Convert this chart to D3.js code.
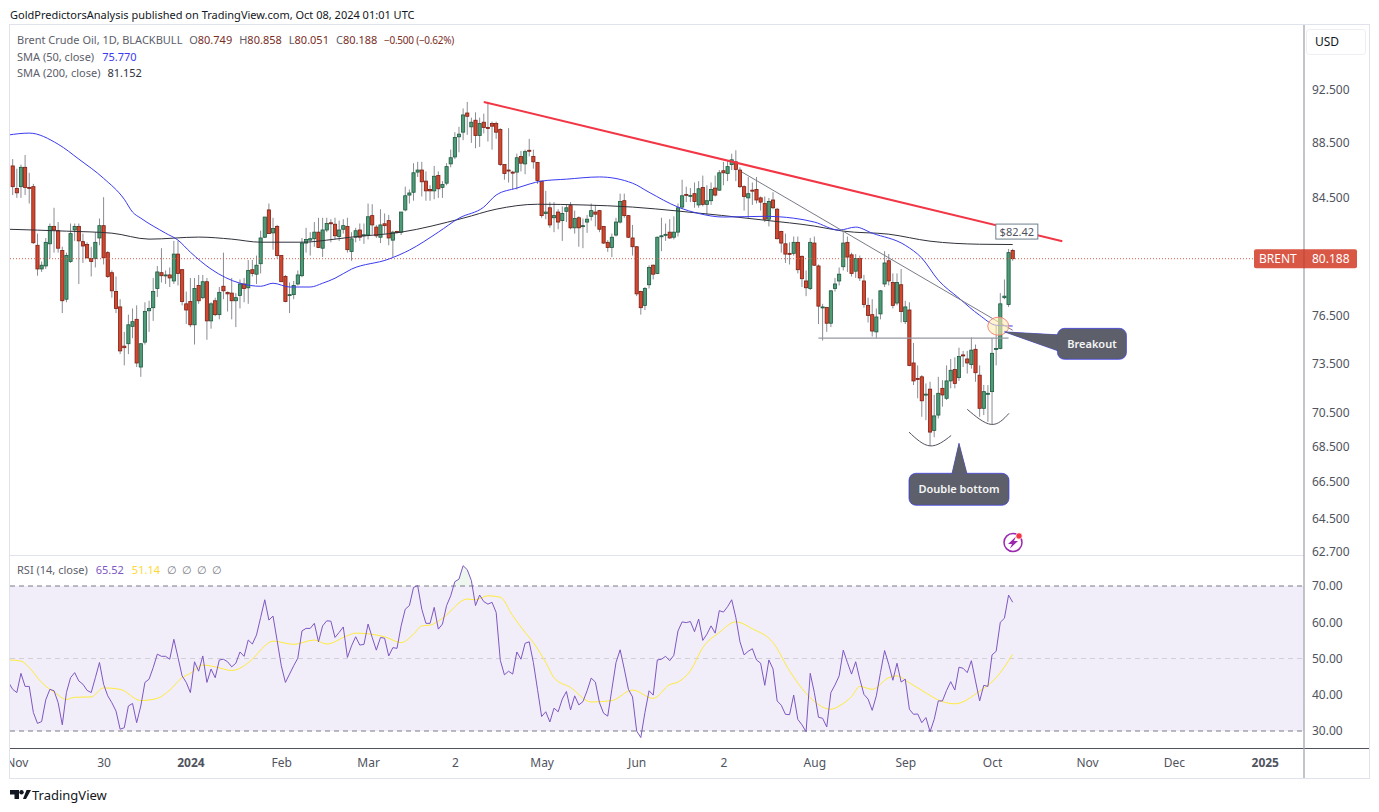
<!DOCTYPE html>
<html>
<head>
<meta charset="utf-8">
<title>Brent Crude Oil</title>
<script src="https://cdn.jsdelivr.net/npm/d3@7"></script>
<style>
  html, body { margin: 0; background: #fff; }
  text { font-family: "Noto Sans", sans-serif; }
</style>
</head>
<body>
<div id="chart"></div>
<script>
// Daily candles, first bar = 0
const opens = [
  86.7,85.07,85.2,86.6,85.15,85.2,81.1,79.5,79.7,81.2,
  82.4,82.1,80.75,77.5,80.0,82.15,82.4,81.35,81.15,80.2,
  80.2,81.6,82.45,80.6,79.25,78,77,74.5,74.65,75.75,
  76.2,73.2,74.75,76.75,76.95,78.2,79.25,79.05,79.1,78.7,
  80.5,79.45,77.2,77.35,75.85,78.4,77.6,78.65,76.1,77.4,
  76.5,78.35,77.95,77.9,77.4,77.75,78.5,78.25,79.45,79.15,
  79.85,81.65,83.55,81.95,82.4,80.4,79.0,77.75,77.8,78.5,
  79.05,81.25,81.45,81.55,82.0,80.9,82.15,82.65,82.55,81.7,
  82.2,82.4,80.67,81.65,82.15,81.75,81.8,83.15,82.35,81.65,
  82.58,82.8,81.45,82.05,82.0,83.55,84.6,84.8,86.25,86.4,
  85.6,85.0,84.9,86.0,85.15,85.45,86.85,87.36,88.85,89.2,
  90.65,89.6,90.1,88.95,89.95,89.55,89.85,89.85,89.4,86.8,
  86.4,86.25,86.25,87.4,86.85,87.85,87.4,86.95,85.6,83.3,
  83.7,83.0,83.4,82.8,83.45,83.85,82.3,83.0,82.4,82.7,
  83.1,83.4,83.5,82.4,81.3,80.95,81.8,82.7,84.2,83.15,
  81.6,81.0,78.0,77.1,78.45,79.75,79.2,81.7,81.8,82.0,
  81.65,82.0,83.75,84.65,84.55,84.7,83.9,85.14,83.94,84.2,
  85.1,84.95,86.35,86.15,86.8,87.0,86.4,85.2,84.4,84.95,
  85.0,84.4,84.0,82.9,84.25,83.6,82.05,81.2,80.55,80.55,
  81.3,80.35,78.7,78.2,81.25,79.7,76.97,76.97,75.95,78.2,
  78.7,79.65,81.3,80.45,79.35,80.2,78.7,77.1,76.5,75.4,
  76.55,78.5,80.05,78.6,77.25,78.45,76.05,76.8,73.45,72.5,
  72.6,71.5,71.85,69.4,70.3,71.9,71.3,72.35,73.05,72.55,
  73.95,73.7,73.35,74.3,72.7,70.7,71.55,71.7,74.3,74.35,
  77.6,77.15,80.749
];
const highs = [
  87.2,86.5,86.8,87.5,86.2,85.4,81.9,80.0,81.6,82.6,
  83.7,82.7,81.0,80.6,82.6,82.6,82.6,81.9,81.3,81.0,
  82.0,82.95,84.45,80.7,79.4,79.0,77.5,75.4,76.5,76.9,
  77.1,74.7,77.3,77.4,78.9,79.7,80.9,79.4,79.6,81.4,
  81.4,79.5,78.0,78.9,78.9,79.1,79.1,78.9,77.3,77.6,
  78.3,80.6,78.0,78.9,77.9,78.8,78.9,80.1,80.1,80.4,
  82.1,83.05,84.0,83.0,82.5,80.4,79.1,78.6,78.7,79.4,
  81.6,82.3,82.0,82.7,83.0,83.0,83.0,82.9,83.0,82.8,
  82.9,83.0,82.0,82.3,82.6,82.6,84.0,83.95,82.5,83.6,
  83.3,83.2,82.1,82.1,83.4,85.2,85.0,86.9,87.0,87.0,
  86.3,85.3,86.7,86.3,85.6,86.9,87.9,89.2,89.6,91.0,
  91.5,90.3,90.7,90.3,90.6,91.5,90.0,90.0,89.5,86.8,
  89.5,86.35,87.6,87.8,87.9,88.7,87.9,87.0,85.6,84.9,
  84.1,84.1,83.6,83.8,83.9,84.1,83.5,83.1,82.95,83.2,
  84.0,83.9,83.55,82.4,81.45,81.9,83.0,84.7,84.7,83.2,
  82.5,81.05,78.05,78.3,79.75,79.8,81.7,83.0,82.6,82.9,
  83.1,84.0,85.7,85.2,85.1,85.5,85.6,86.0,85.3,85.5,
  86.0,86.4,87.0,87.1,87.6,87.85,86.6,85.3,85.9,85.5,
  85.9,84.5,84.5,84.4,84.8,83.7,82.1,81.9,81.3,81.7,
  81.7,80.4,79.4,81.6,81.7,79.8,77.2,77.0,78.1,78.9,
  79.6,82.0,81.7,80.6,80.5,80.4,79.1,77.6,77.5,76.9,
  78.1,80.7,80.5,79.2,79.2,79.5,77.4,77.3,74.7,73.3,
  72.7,72.2,72.3,71.5,72.6,72.4,73.3,73.7,73.8,74.4,
  74.2,74.2,75.05,74.6,73.3,72.1,72.1,75.0,75.8,77.9,
  78.8,80.85,80.858
];
const lows = [
  84.6,84.4,84.4,84.6,84.0,81.2,79.05,79.3,79.5,80.2,
  80.6,80.6,76.6,77.3,79.9,81.4,78.5,79.9,80.2,79.0,
  79.6,81.1,79.8,78.9,77.6,76.6,74.0,73.3,74.0,75.0,
  73.2,72.6,74.6,75.4,76.1,77.65,78.6,78.5,78.3,78.5,
  78.4,77.1,75.9,75.7,74.6,77.2,77.5,74.9,75.6,76.4,
  76.2,77.5,76.7,76.2,75.7,76.9,77.3,77.2,79.0,78.5,
  79.2,81.6,81.9,80.8,80.2,78.65,77.3,76.6,77.5,78.4,
  78.95,80.6,80.4,81.0,80.9,80.3,82.0,81.3,81.5,81.4,
  81.9,80.6,80.05,81.3,81.4,81.2,81.5,81.85,81.6,81.25,
  81.9,81.1,80.3,81.9,81.8,83.45,84.0,84.2,85.9,84.5,
  84.2,84.2,84.3,84.4,84.4,85.3,86.6,87.2,87.7,88.6,
  89.0,88.4,88.0,88.1,89.1,88.5,87.9,88.7,86.7,85.7,
  85.5,85.0,85.0,86.3,86.1,87.4,86.5,85.4,83.0,82.9,
  82.3,82.0,82.2,81.4,82.7,82.2,81.9,81.0,80.9,81.95,
  82.8,82.4,82.0,81.2,80.65,80.3,81.7,82.6,83.0,81.6,
  80.4,77.7,76.5,76.8,78.2,78.8,79.15,80.7,81.4,81.55,
  81.5,81.7,83.6,84.1,84.1,83.7,83.7,83.8,83.2,83.9,
  84.5,84.9,85.3,85.6,86.4,85.6,85.1,83.5,83.0,83.9,
  84.0,83.5,82.7,82.4,83.6,81.5,80.6,79.9,79.8,80.4,
  79.2,78.3,77.7,78.1,79.7,75.9,74.85,75.4,75.7,78.0,
  78.4,79.4,79.3,79.0,78.9,78.7,76.95,76.0,75.1,75.0,
  76.2,78.3,78.4,76.9,77.1,76.0,75.9,73.25,72.1,71.3,
  70.2,70.0,68.5,69.0,70.1,70.8,71.2,71.9,71.9,72.35,
  73.2,72.8,73.1,72.3,70.2,70.3,69.9,69.75,73.3,74.3,
  77.5,77.0,80.051
];
const closes = [
  85.2,84.76,86.6,85.15,85.1,81.27,79.5,79.75,81.3,82.4,
  82.15,80.9,77.4,80.4,81.9,82.4,81.4,81.05,80.25,80.0,
  81.3,82.45,80.25,79.0,78.05,76.9,74.2,74.4,75.85,76.05,
  73.45,74.65,76.7,76.9,78.0,79.3,79.05,79.1,78.9,80.5,
  79.2,77.35,76.8,75.85,78.2,77.4,78.65,76.1,77.2,76.5,
  77.95,78.05,77.85,77.4,77.6,78.5,78.2,79.4,79.2,79.75,
  81.6,83.05,81.9,82.25,80.4,78.65,77.35,77.8,78.4,79.1,
  81.25,81.5,81.55,82.0,80.95,82.15,82.6,82.6,81.75,82.15,
  82.45,80.8,81.54,82.1,81.65,81.82,83.07,82.5,81.75,82.5,
  82.45,81.6,82.0,82.0,83.4,84.55,84.75,86.2,86.4,85.55,
  84.9,84.9,85.95,85.05,85.35,86.65,87.3,88.8,89.05,90.5,
  90.4,89.95,88.95,89.85,89.55,89.5,89.65,89.2,86.8,86.15,
  86.35,86.2,87.3,86.9,87.75,87.8,87.0,85.65,83.15,83.4,
  82.5,83.15,82.7,83.3,83.7,82.3,82.95,82.3,82.45,82.9,
  83.5,83.25,82.2,81.25,80.95,81.65,82.7,84.15,83.15,81.65,
  81.0,77.85,76.95,78.2,79.6,79.15,81.65,81.75,81.85,81.6,
  82.0,83.7,84.55,84.6,84.58,84.15,85.05,83.94,84.2,85.0,
  84.6,86.2,86.2,86.65,87.15,86.45,85.2,84.5,84.7,84.9,
  84.25,84.1,82.9,84.15,83.7,81.55,81.25,80.5,80.5,81.3,
  79.45,78.85,78.25,81.3,79.75,77.05,77.0,75.95,78.05,78.5,
  79.15,81.25,80.3,79.2,80.2,78.9,77.15,76.45,75.45,76.35,
  78.05,79.9,78.7,77.1,78.6,76.7,77.0,73.3,72.35,72.45,
  71.15,71.55,69.3,70.25,71.6,71.5,72.35,73.0,72.2,73.85,
  73.9,73.45,74.25,72.85,70.7,71.7,71.6,74.05,74.35,77.2,
  77.7,80.6,80.188
];

// Moving averages, read at the bends of the lines
const sma50Bars = [-1,4,11,16,22,27,29,31,37,40,43,48,55,60,63,67,72,75,78,82,91,96,103,108,114,117,122,128,134,142,150,154,161,166,172,182,189,194,200,204,208,216,220,224,229,234,238,242];
const sma50 = [88.99,89.13,88.3,87.2,85.8,84.3,83.4,82.97,81.93,81.45,80.63,79.49,78.55,78.35,78.55,78.3,78.3,78.55,78.88,79.49,80.16,80.77,82.0,82.97,83.75,84.6,85.1,85.6,85.74,85.9,85.45,84.8,83.75,83.3,83.05,83.1,82.97,82.7,82.14,82.35,81.93,81.1,80.23,78.75,77.57,76.46,75.82,75.77];
const sma200Bars = [-1,13,24,33,45,53,60,70,78,82,94,109,117,127,138,150,161,182,194,201,212,222,234,242];
const sma200 = [82.2,82.07,81.93,81.52,81.66,81.52,81.31,81.31,81.52,81.66,82.0,82.97,83.6,83.95,83.9,83.75,83.47,82.83,82.42,82.07,81.86,81.38,81.17,81.15];

// RSI, one value per bar starting one bar before the first candle
const rsiFirstBar = -1;
const rsi = [
  43.4,41.5,40.6,45.9,42.3,42.3,35.1,32.1,32.6,38.6,41.5,
  41.1,37.8,31.7,40.6,44.7,46.1,43.8,42.9,41.2,40.6,
  44.7,48.9,42.9,39.7,37.8,35.5,30.5,30.9,36.9,37.6,
  32.3,36.9,43.4,44.3,47.5,51.2,50.6,50.6,49.8,55.3,
  50.3,45.2,43.4,40.6,49.1,46.5,50.7,43.4,47.1,44.7,
  49.6,49.8,49.1,47.7,48.7,51.8,50.6,55.1,54.0,56.5,
  61.3,66.2,60.6,61.7,54.9,48.0,43.4,45.7,48.0,50.1,
  57.6,58.3,58.3,59.7,54.6,59.0,60.4,60.3,55.8,57.2,
  58.7,50.3,53.5,56.0,53.7,53.9,59.5,55.8,52.3,55.8,
  55.6,50.7,53.0,52.8,59.0,63.6,64.6,69.6,70.1,63.6,
  59.7,59.7,64.1,58.1,59.5,64.6,67.3,71.2,71.9,75.6,
  74.5,71.5,64.6,67.5,65.7,65.0,65.5,62.7,49.5,45.5,
  46.5,45.7,51.8,49.8,54.2,54.6,48.9,41.5,34.0,35.3,
  32.5,36.3,35.3,38.8,40.9,35.8,39.7,37.2,38.1,41.1,
  44.6,43.5,37.8,34.9,34.1,41.5,48.9,52.4,47.1,41.5,
  39.4,30.0,28.2,35.1,41.1,39.9,49.6,49.8,50.6,49.4,
  50.9,57.6,60.1,59.9,60.2,57.4,60.9,55.0,56.7,59.0,
  57.0,63.2,62.8,64.3,66.2,61.3,54.6,51.0,52.0,52.7,
  49.6,48.7,42.6,49.6,47.1,38.3,37.1,34.6,34.5,39.9,
  33.2,31.7,29.8,45.9,40.6,33.8,33.5,31.1,40.6,42.7,
  45.2,52.3,48.9,45.7,49.1,44.3,40.1,38.8,35.7,39.7,
  46.1,52.2,48.4,44.0,48.7,43.5,44.3,36.0,34.6,34.7,
  32.3,33.7,29.8,33.2,38.3,38.3,41.2,43.6,41.3,47.6,
  47.3,46.1,49.4,43.8,38.3,42.6,42.3,51.0,52.0,60.0,
  61.1,67.5,65.52
];
const rsiMaBars = [-1,2,4,7,9,10,13,15,19,22,26,31,35,38,41,43,46,49,53,58,61,63,68,73,76,81,83,90,94,97,99,101,104,110,112,115,118,121,124,126,129,131,135,140,145,150,155,159,161,164,167,171,175,179,184,188,192,198,200,203,205,208,212,214,217,220,225,228,234,238,242];
const rsiMa = [49.6,49.3,47.5,43.4,41.5,40.8,38.7,39.3,39.4,41.9,41.5,38.4,39.0,41.3,44.7,45.9,48.2,47.7,46.7,49.8,53.5,54.8,53.9,55.1,54.0,56.3,57.0,56.0,54.4,56.7,59.0,59.2,61.1,66.4,66.2,67.3,66.9,61.8,57.2,54.4,48.9,44.7,42.0,38.0,38.4,41.3,39.0,42.8,43.5,46.6,53.0,57.2,60.1,58.2,54.4,46.6,40.4,36.0,36.9,39.5,42.3,41.5,44.7,45.2,43.3,41.2,38.1,37.5,41.0,44.7,51.14];

// Axis ticks
const priceTicks = [92.5, 88.5, 84.5, 76.5, 73.5, 70.5, 68.5, 66.5, 64.5, 62.7];
const rsiTicks = [70, 60, 50, 40, 30];
const timeTickBars = [1, 22, 43, 65, 86, 107, 128, 151, 172, 194, 216, 237, 260, 281, 303];
const timeTickLabels = ['Nov', '30', '2024', 'Feb', 'Mar', '2', 'May', 'Jun', '2', 'Aug', 'Sep', 'Oct', 'Nov', 'Dec', '2025'];
const boldTimeLabels = ['2024', '2025'];

// Drawn annotations as [bar, price]
const resistanceLine = [[114, 91.5], [254, 81.38]];
const trendLine = [[176.5, 86.25], [242, 75.5]];
const necklineLine = [[195, 75.0], [241, 75.0]];
const leftBottomArc = [[216.9, 69.3], [222, 68.5], [227.1, 69.1]];
const rightBottomArc = [[231, 70.64], [236.8, 69.75], [241.1, 70.4]];
const breakoutMark = [238.5, 75.76];
const breakoutTip = [240, 75.4];
const doubleBottomTip = [229, 68.65];
const targetLabel = [243, 82.04];
const lastClose = 80.188;

const W = 1379, H = 812;
const paneLeft = 10, paneRight = 1304, frameRight = 1369;
const paneTop = 25, priceEnd = 555, rsiEnd = 748, frameBottom = 778;

const svg = d3.select('#chart').append('svg')
    .attr('width', W)
    .attr('height', H)
    .style('display', 'block');

const defs = svg.append('defs');
defs.append('clipPath').attr('id', 'clip-price').append('rect')
    .attr('x', paneLeft).attr('y', paneTop).attr('width', paneRight - paneLeft).attr('height', priceEnd - paneTop);
defs.append('clipPath').attr('id', 'clip-rsi').append('rect')
    .attr('x', paneLeft).attr('y', priceEnd).attr('width', paneRight - paneLeft).attr('height', rsiEnd - priceEnd);
defs.append('clipPath').attr('id', 'clip-over').append('rect')
    .attr('x', paneLeft).attr('y', priceEnd).attr('width', paneRight - paneLeft).attr('height', 586 - priceEnd);
defs.append('clipPath').attr('id', 'clip-time').append('rect')
    .attr('x', paneLeft).attr('y', rsiEnd).attr('width', paneRight - paneLeft).attr('height', frameBottom - rsiEnd);

// Scales
const x = d3.scaleLinear().domain([0, 242]).range([12.7, 1012.7]);
const y = d3.scaleLog().domain([62.7, 92.5]).range([551, 89]);
const yRsi = d3.scaleLinear().domain([30, 70]).range([731, 586]);

// Frame
svg.append('text').attr('x', 10).attr('y', 19)
    .attr('font-size', 11).attr('fill', '#131722')
    .text('GoldPredictorsAnalysis published on TradingView.com, Oct 08, 2024 01:01 UTC');
svg.append('rect')
    .attr('x', paneLeft - 0.5).attr('y', paneTop - 0.5)
    .attr('width', frameRight - paneLeft + 1).attr('height', frameBottom - paneTop + 1)
    .attr('fill', '#fff').attr('stroke', '#e0e3eb');
svg.append('line')
    .attr('x1', paneLeft).attr('x2', paneRight)
    .attr('y1', priceEnd + 0.5).attr('y2', priceEnd + 0.5)
    .attr('stroke', '#e0e3eb');

// Candles
const bars = closes.map((c, i) => ({ i, o: opens[i], h: highs[i], l: lows[i], c }));
const up = d => d.c >= d.o;
const pricePane = svg.append('g').attr('clip-path', 'url(#clip-price)');

pricePane.append('g').selectAll('line').data(bars).join('line')
    .attr('x1', d => x(d.i)).attr('x2', d => x(d.i))
    .attr('y1', d => y(d.h)).attr('y2', d => y(d.l))
    .attr('stroke', '#8a8d94')
    .attr('stroke-width', 1);

pricePane.append('g').selectAll('rect').data(bars).join('rect')
    .attr('x', d => x(d.i) - 1.6)
    .attr('width', 3.2)
    .attr('y', d => y(Math.max(d.o, d.c)))
    .attr('height', d => Math.max(Math.abs(y(d.o) - y(d.c)), 1))
    .attr('fill', d => up(d) ? '#4f9a77' : '#d4472f')
    .attr('stroke', d => up(d) ? '#1c5a3f' : '#7a1f14')
    .attr('stroke-width', 0.8);

// Last price line
pricePane.append('line')
    .attr('x1', paneLeft).attr('x2', paneRight)
    .attr('y1', y(lastClose)).attr('y2', y(lastClose))
    .attr('stroke', '#d9604c')
    .attr('stroke-dasharray', '1,2');

// Moving averages
const smaLine = d3.line().x(d => x(d[0])).y(d => y(d[1])).curve(d3.curveMonotoneX);
pricePane.append('path').datum(d3.zip(sma200Bars, sma200))
    .attr('fill', 'none').attr('stroke', '#30323a').attr('stroke-width', 1)
    .attr('d', smaLine);
pricePane.append('path').datum(d3.zip(sma50Bars, sma50))
    .attr('fill', 'none').attr('stroke', '#3a3af0').attr('stroke-width', 1)
    .attr('d', smaLine);

// Trend lines and bottoms
const straight = d3.line().x(d => x(d[0])).y(d => y(d[1]));
pricePane.append('path').datum(trendLine)
    .attr('fill', 'none').attr('stroke', '#787b86').attr('stroke-width', 1)
    .attr('d', straight);
pricePane.append('path').datum(necklineLine)
    .attr('fill', 'none').attr('stroke', '#9598a1').attr('stroke-width', 1.3)
    .attr('d', straight);
pricePane.append('path').datum(resistanceLine)
    .attr('fill', 'none').attr('stroke', '#f23645').attr('stroke-width', 2)
    .attr('d', straight);
[leftBottomArc, rightBottomArc].forEach(arc => {
    pricePane.append('path').datum(arc)
        .attr('fill', 'none').attr('stroke', '#50535e').attr('stroke-width', 1)
        .attr('d', d3.line().x(d => x(d[0])).y(d => y(d[1])).curve(d3.curveNatural));
});

// Breakout circle
pricePane.append('ellipse')
    .attr('cx', x(breakoutMark[0])).attr('cy', y(breakoutMark[1]))
    .attr('rx', 10.5).attr('ry', 9)
    .attr('fill', 'rgba(255, 236, 179, 0.6)')
    .attr('stroke', '#f7867a');

// Callouts
function callout(label, boxX, boxY, boxW, boxH, pointer) {
    const g = svg.append('g');
    g.append('path')
        .attr('d', d3.line()(pointer))
        .attr('fill', '#5d606b').attr('stroke', '#3a3af0').attr('stroke-width', 0.7);
    g.append('rect')
        .attr('x', boxX).attr('y', boxY).attr('width', boxW).attr('height', boxH)
        .attr('rx', 7)
        .attr('fill', '#5d606b').attr('stroke', '#3a3af0').attr('stroke-width', 0.7);
    // hide the join between pointer and box
    g.append('path')
        .attr('d', d3.line()(pointer))
        .attr('fill', '#5d606b');
    g.append('text')
        .attr('x', boxX + boxW / 2).attr('y', boxY + boxH / 2 + 4)
        .attr('text-anchor', 'middle')
        .attr('font-size', 11).attr('font-weight', 600).attr('fill', '#f5f5f5')
        .text(label);
}
const dbX = x(doubleBottomTip[0]), dbY = y(doubleBottomTip[1]);
callout('Double bottom', dbX - 50, dbY + 30, 100, 32,
    [[dbX - 7, dbY + 30.5], [dbX, dbY], [dbX + 8, dbY + 30.5]]);
const boX = x(breakoutTip[0]), boY = y(breakoutTip[1]);
callout('Breakout', boX + 53, boY - 3.5, 69, 31,
    [[boX + 53.5, boY + 3], [boX, boY], [boX + 53.5, boY + 19]]);

// Price target label
const tgX = x(targetLabel[0]), tgY = y(targetLabel[1]);
svg.append('rect')
    .attr('x', tgX - 21).attr('y', tgY - 7.5).attr('width', 42).attr('height', 15)
    .attr('fill', '#fff').attr('stroke', '#6d7f8c');
svg.append('text')
    .attr('x', tgX).attr('y', tgY + 4)
    .attr('text-anchor', 'middle')
    .attr('font-size', 11).attr('fill', '#50535e')
    .text('$82.42');

// Lightning badge
const badge = svg.append('g').attr('transform', 'translate(1013,542.5)');
badge.append('circle').attr('r', 9).attr('fill', 'none').attr('stroke', '#9c27b0').attr('stroke-width', 1.5);
badge.append('path').attr('d', 'M3,-6 L-5,1.5 L-1,1.5 L-3,6 L5,-1.5 L1,-1.5 Z').attr('fill', '#9c27b0');
badge.append('circle').attr('cx', 6).attr('cy', -6.5).attr('r', 3.2).attr('fill', '#f23645')
    .attr('stroke', '#fff').attr('stroke-width', 0.7);

// RSI pane
const rsiPoints = rsi.map((v, k) => [k + rsiFirstBar, v]);
const rsiLine = d3.line().x(d => x(d[0])).y(d => yRsi(d[1]));
const rsiPane = svg.append('g').attr('clip-path', 'url(#clip-rsi)');

rsiPane.append('rect')
    .attr('x', paneLeft).attr('width', paneRight - paneLeft)
    .attr('y', yRsi(70)).attr('height', yRsi(30) - yRsi(70))
    .attr('fill', '#7e57c2').attr('fill-opacity', 0.1);
rsiPane.append('path').datum(rsiPoints)
    .attr('clip-path', 'url(#clip-over)')
    .attr('fill', '#4caf50').attr('fill-opacity', 0.1)
    .attr('d', d3.area().x(d => x(d[0])).y0(yRsi(70)).y1(d => yRsi(d[1])));

rsiTicks.filter(t => t !== 40 && t !== 60).forEach(t => {
    rsiPane.append('line')
        .attr('x1', paneLeft).attr('x2', paneRight)
        .attr('y1', yRsi(t)).attr('y2', yRsi(t))
        .attr('stroke', t === 50 ? '#d1cfd8' : '#787b86')
        .attr('stroke-dasharray', '5,4');
});

rsiPane.append('path').datum(d3.zip(rsiMaBars, rsiMa))
    .attr('fill', 'none').attr('stroke', '#ffeb3b').attr('stroke-width', 1)
    .attr('d', d3.line().x(d => x(d[0])).y(d => yRsi(d[1])).curve(d3.curveMonotoneX));
rsiPane.append('path').datum(rsiPoints)
    .attr('fill', 'none').attr('stroke', '#7e57c2').attr('stroke-width', 1)
    .attr('d', rsiLine);

// Axes
const priceAxis = svg.append('g')
    .attr('transform', `translate(${paneRight},1)`)
    .call(d3.axisRight(y).tickValues(priceTicks).tickFormat(d3.format('.3f')).tickSize(0).tickPadding(8));
priceAxis.select('.domain').remove();

const rsiAxis = svg.append('g')
    .attr('transform', `translate(${paneRight},0)`)
    .call(d3.axisRight(yRsi).tickValues(rsiTicks).tickFormat(d3.format('.2f')).tickSize(0).tickPadding(8));
rsiAxis.select('.domain').remove();

const timeAxis = svg.append('g')
    .attr('clip-path', 'url(#clip-time)')
    .append('g')
    .attr('transform', `translate(0,${rsiEnd})`)
    .call(d3.axisBottom(x).tickValues(timeTickBars)
        .tickFormat((d, i) => timeTickLabels[i]).tickSize(0).tickPadding(10));
timeAxis.select('.domain').remove();

svg.selectAll('.tick text')
    .attr('font-size', 12)
    .attr('font-family', '"Noto Sans", sans-serif')
    .attr('fill', '#50535e');
timeAxis.selectAll('.tick text')
    .attr('font-weight', function () { return boldTimeLabels.includes(this.textContent) ? 700 : 400; });

// Axis borders on top
svg.append('line')
    .attr('x1', paneLeft).attr('x2', frameRight)
    .attr('y1', rsiEnd + 0.5).attr('y2', rsiEnd + 0.5)
    .attr('stroke', '#50535e');
svg.append('line')
    .attr('x1', paneRight).attr('x2', paneRight)
    .attr('y1', paneTop).attr('y2', frameBottom)
    .attr('stroke', '#a3a6af').attr('stroke-width', 1.3);

// USD button
svg.append('rect')
    .attr('x', 1306.5).attr('y', 29.5).attr('width', 59).attr('height', 25)
    .attr('rx', 3).attr('fill', '#fff').attr('stroke', '#eceef2');
svg.append('text').attr('x', 1315).attr('y', 46)
    .attr('font-size', 12).attr('fill', '#131722').text('USD');

// Last price tag
const tagY = y(lastClose);
svg.append('rect')
    .attr('x', 1254).attr('y', tagY - 9.5).attr('width', 103).attr('height', 19)
    .attr('rx', 2).attr('fill', '#d95745');
svg.append('line')
    .attr('x1', paneRight).attr('x2', paneRight)
    .attr('y1', tagY - 9.5).attr('y2', tagY + 9.5)
    .attr('stroke', '#b94a3a');
svg.append('text').attr('x', 1259).attr('y', tagY + 4.5)
    .attr('font-size', 12).attr('fill', '#fff').text('BRENT');
svg.append('text').attr('x', 1312).attr('y', tagY + 4.5)
    .attr('font-size', 12).attr('fill', '#fff').text('80.188');

// Legends
function legendRow(rowY, parts) {
    const t = svg.append('text').attr('x', 17).attr('y', rowY).attr('font-size', 11);
    parts.forEach(p => t.append('tspan')
        .attr('fill', p[1])
        .attr('dx', p[2] || 0)
        .text(p[0]));
}
const grey = '#5d606b', dark = '#7a2e1f';
legendRow(44, [['Brent Crude Oil, 1D, BLACKBULL', grey],
    ['O', grey, 7], ['80.749', dark], ['H', grey, 7], ['80.858', dark],
    ['L', grey, 7], ['80.051', dark], ['C', grey, 7], ['80.188', dark]]);
svg.append('text').attr('x', 384).attr('y', 44)
    .attr('font-size', 10).attr('letter-spacing', -0.25).attr('fill', dark)
    .text('\u22120.500 (\u22120.62%)');
legendRow(61, [['SMA (50, close)', grey], ['75.770', '#3a3af0', 8]]);
legendRow(77, [['SMA (200, close)', grey], ['81.152', '#30323a', 7]]);
legendRow(574, [['RSI (14, close)', grey], ['65.52', '#7e57c2', 8], ['51.14', '#fdd835', 8],
    ['\u2205', '#787b86', 7], ['\u2205', '#787b86', 5], ['\u2205', '#787b86', 5], ['\u2205', '#787b86', 5]]);

// TradingView mark
const mark = svg.append('g').attr('transform', 'translate(10,790)').attr('fill', '#131722');
mark.append('path').attr('d', 'M0,0 H9 V9 H4.5 V4.5 H0 Z');
mark.append('circle').attr('cx', 11.5).attr('cy', 2.2).attr('r', 2.2);
mark.append('path').attr('d', 'M13,9 L16.5,0 H21 L16,9 Z');
svg.append('text').attr('x', 32).attr('y', 800)
    .attr('font-size', 13).attr('fill', '#131722').text('TradingView');
</script>
</body>
</html>
